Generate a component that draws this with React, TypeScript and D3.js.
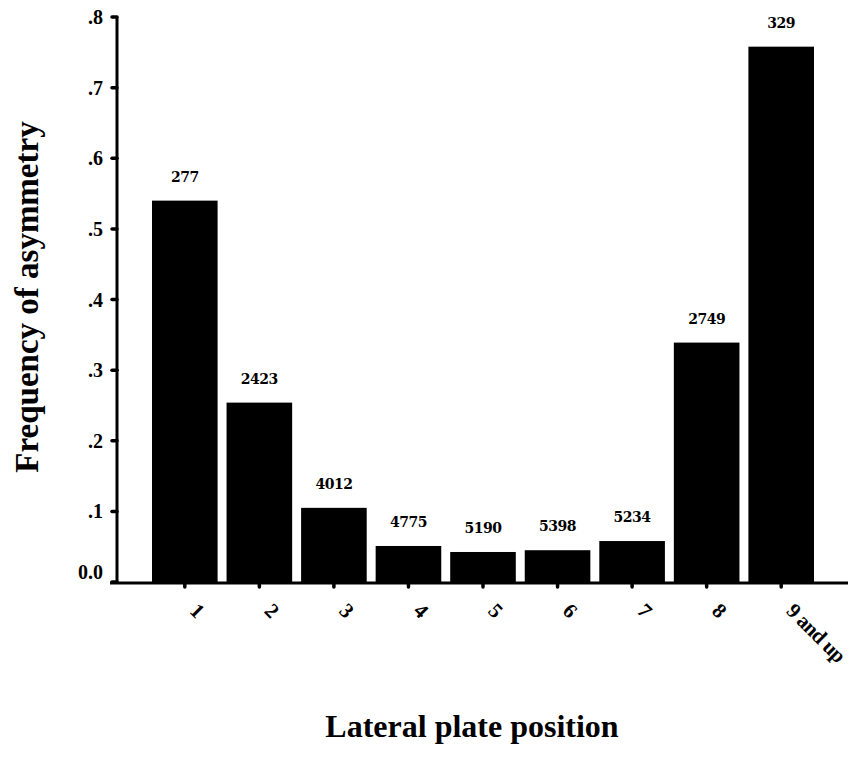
import React, { useEffect, useRef } from 'react';
import * as d3 from 'd3';

const categories = ['1', '2', '3', '4', '5', '6', '7', '8', '9 and up'];
const frequencies = [0.54, 0.254, 0.105, 0.051, 0.0425, 0.045, 0.058, 0.339, 0.758];
const sampleSizes = ['277', '2423', '4012', '4775', '5190', '5398', '5234', '2749', '329'];
const yTicks = [0, 0.1, 0.2, 0.3, 0.4, 0.5, 0.6, 0.7, 0.8];
const yTickLabels = ['0.0', '.1', '.2', '.3', '.4', '.5', '.6', '.7', '.8'];

export default function App() {
  const svgRef = useRef<SVGSVGElement>(null);

  useEffect(() => {
    const svg = d3.select(svgRef.current);
    svg.selectAll('*').remove();

    const width = 851;
    const height = 760;
    const font = '"Liberation Serif", "Times New Roman", serif';
    const wideFont = '"DejaVu Serif", serif';
    const axisX = 117;
    const axisY = 582;

    const x = d3.scaleBand().domain(categories).range([152, 814]).paddingInner(0.12).paddingOuter(0);
    const y = d3.scaleLinear().domain([0, 0.8]).range([axisY, 17]);

    svg.attr('width', width).attr('height', height).style('display', 'block').style('background', '#fff');

    // bars
    svg.append('g')
      .selectAll('rect')
      .data(frequencies)
      .join('rect')
      .attr('x', (d, i) => x(categories[i])!)
      .attr('y', d => y(d))
      .attr('width', x.bandwidth())
      .attr('height', d => axisY - y(d))
      .attr('fill', '#000');

    // n labels
    svg.append('g')
      .selectAll('text')
      .data(frequencies)
      .join('text')
      .attr('x', (d, i) => x(categories[i])! + x.bandwidth() / 2)
      .attr('y', d => y(d) - 19)
      .attr('text-anchor', 'middle')
      .attr('font-family', wideFont)
      .attr('font-weight', 'bold')
      .attr('font-size', 14)
      .attr('letter-spacing', -0.5)
      .text((d, i) => sampleSizes[i]);

    // y axis
    svg.append('line')
      .attr('x1', axisX).attr('x2', axisX)
      .attr('y1', y(0.8)).attr('y2', axisY + 1)
      .attr('stroke', '#000').attr('stroke-width', 3);
    const yt = svg.append('g');
    yt.selectAll('line')
      .data(yTicks)
      .join('line')
      .attr('x1', axisX - 5).attr('x2', axisX)
      .attr('y1', d => y(d)).attr('y2', d => y(d))
      .attr('stroke', '#000').attr('stroke-width', 3.5).attr('stroke-linecap', 'round');
    yt.selectAll('text')
      .data(yTicks)
      .join('text')
      .attr('x', 103)
      .attr('y', (d, i) => y(d) + (i === 0 ? -3 : 7))
      .attr('text-anchor', 'end')
      .attr('font-family', font)
      .attr('font-weight', 'bold')
      .attr('font-size', 20)
      .text((d, i) => yTickLabels[i]);

    // x axis
    svg.append('line')
      .attr('x1', 110).attr('x2', 848)
      .attr('y1', axisY + 1).attr('y2', axisY + 1)
      .attr('stroke', '#000').attr('stroke-width', 3);
    const xt = svg.append('g');
    xt.selectAll('line')
      .data(categories)
      .join('line')
      .attr('x1', d => x(d)! + x.bandwidth() / 2)
      .attr('x2', d => x(d)! + x.bandwidth() / 2)
      .attr('y1', axisY + 1).attr('y2', axisY + 5)
      .attr('stroke', '#000').attr('stroke-width', 3.5).attr('stroke-linecap', 'round');
    xt.selectAll('text')
      .data(categories)
      .join('text')
      .attr('transform', d => `translate(${x(d)! + x.bandwidth() / 2 + 4},${axisY + 30}) rotate(45)`)
      .attr('font-family', font)
      .attr('font-weight', 'bold')
      .attr('font-size', 21)
      .attr('letter-spacing', -0.6)
      .text(d => d);

    // axis titles
    svg.append('text')
      .attr('transform', `translate(38,297) rotate(-90)`)
      .attr('text-anchor', 'middle')
      .attr('font-family', font)
      .attr('font-weight', 'bold')
      .attr('font-size', 33)
      .text('Frequency of asymmetry');
    svg.append('text')
      .attr('x', 472)
      .attr('y', 737)
      .attr('text-anchor', 'middle')
      .attr('font-family', font)
      .attr('font-weight', 'bold')
      .attr('font-size', 32)
      .text('Lateral plate position');
  }, []);

  return <svg ref={svgRef} style={{ position: 'absolute', left: 0, top: 0 }}></svg>;
}
